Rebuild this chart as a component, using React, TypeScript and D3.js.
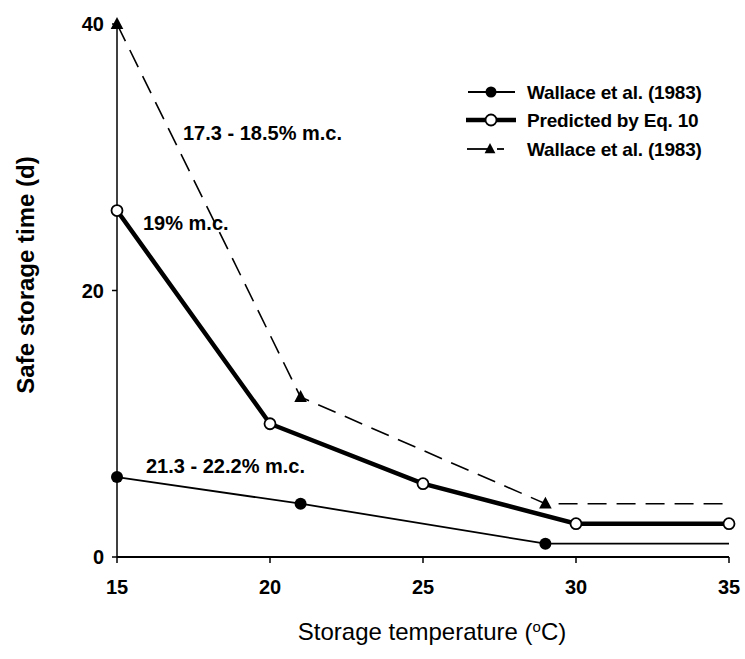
import React from "react";
import * as d3 from "d3";

const wallaceCirX = [15, 21, 29, 35];
const wallaceCirY = [6, 4, 1, 1];
const wallaceCirMarked = [true, true, true, false];

const predX = [15, 20, 25, 30, 35];
const predY = [26, 10, 5.5, 2.5, 2.5];

const wallaceTriX = [15, 21, 29, 35];
const wallaceTriY = [40, 12, 4, 4];
const wallaceTriMarked = [true, true, true, false];

const xTicks = [15, 20, 25, 30, 35];
const yTicks = [0, 20, 40];

const legendLabels = ["Wallace et al. (1983)", "Predicted by Eq. 10", "Wallace et al. (1983)"];

const W = 745, H = 659;
const FONT = "'Liberation Sans', Arial, sans-serif";

export default function App() {
  const x = d3.scaleLinear().domain([15, 35]).range([117, 729]);
  const y = d3.scaleLinear().domain([0, 40]).range([557, 24]);
  const line = d3.line<[number, number]>().x(d => x(d[0])).y(d => y(d[1]));

  const cir = wallaceCirX.map((v, i) => [v, wallaceCirY[i]] as [number, number]);
  const pred = predX.map((v, i) => [v, predY[i]] as [number, number]);
  const tri = wallaceTriX.map((v, i) => [v, wallaceTriY[i]] as [number, number]);
  const triPath = (cx: number, cy: number, s: number) =>
    `M${cx},${cy - s}L${cx + s * 0.9},${cy + s * 0.7}L${cx - s * 0.9},${cy + s * 0.7}Z`;

  return (
    <svg width={W} height={H} style={{ display: "block", position: "absolute", left: 0, top: 0 }}>
      <rect width={W} height={H} fill="#fff" />
      {/* axes */}
      <line x1={x(15)} x2={x(35)} y1={y(0)} y2={y(0)} stroke="#000" strokeWidth={2} />
      <line x1={x(15)} x2={x(15)} y1={y(0)} y2={y(40)} stroke="#000" strokeWidth={1.5} />
      {xTicks.map(t => (
        <g key={"xt" + t}>
          <line x1={x(t)} x2={x(t)} y1={y(0)} y2={y(0) + 6} stroke="#000" strokeWidth={1.5} />
          <text x={x(t)} y={y(0) + 37} textAnchor="middle" fontFamily={FONT} fontSize={20} fontWeight="bold">{t}</text>
        </g>
      ))}
      {yTicks.map(t => (
        <g key={"yt" + t}>
          <line x1={x(15) - 5} x2={x(15)} y1={y(t)} y2={y(t)} stroke="#000" strokeWidth={1.5} />
          <text x={x(15) - 13} y={y(t) + 7} textAnchor="end" fontFamily={FONT} fontSize={20} fontWeight="bold">{t}</text>
        </g>
      ))}
      <text x={432} y={640} textAnchor="middle" fontFamily={FONT} fontSize={24}>
        Storage temperature (<tspan baselineShift="super" fontSize={15}>o</tspan>C)
      </text>
      <text transform={`translate(34,${275}) rotate(-90)`} textAnchor="middle" fontFamily={FONT} fontSize={24} fontWeight="bold">
        Safe storage time (d)
      </text>

      {/* series */}
      <path d={line(tri) || ""} fill="none" stroke="#000" strokeWidth={1.6} strokeDasharray="19,10" />
      <path d={line(pred) || ""} fill="none" stroke="#000" strokeWidth={4.5} />
      <path d={line(cir) || ""} fill="none" stroke="#000" strokeWidth={1.8} />
      {tri.map((d, i) => wallaceTriMarked[i] ? (
        <path key={"t" + i} d={triPath(x(d[0]), y(d[1]), 7)} fill="#000" />
      ) : null)}
      {pred.map((d, i) => (
        <circle key={"p" + i} cx={x(d[0])} cy={y(d[1])} r={5.5} fill="#fff" stroke="#000" strokeWidth={1.8} />
      ))}
      {cir.map((d, i) => wallaceCirMarked[i] ? (
        <circle key={"c" + i} cx={x(d[0])} cy={y(d[1])} r={6} fill="#000" />
      ) : null)}

      {/* annotations */}
      <g fontFamily={FONT} fontSize={20} fontWeight="bold">
        <text x={183} y={140}>17.3 - 18.5% m.c.</text>
        <text x={143} y={230}>19% m.c.</text>
        <text x={146} y={473}>21.3 - 22.2% m.c.</text>
      </g>

      {/* legend */}
      <g fontFamily={FONT} fontSize={19} fontWeight="bold" letterSpacing={-0.2}>
        <line x1={468} x2={515} y1={92} y2={92} stroke="#000" strokeWidth={1.8} />
        <circle cx={491} cy={92} r={5.5} fill="#000" />
        <text x={527} y={99}>{legendLabels[0]}</text>

        <line x1={466} x2={516} y1={120} y2={120} stroke="#000" strokeWidth={4.5} />
        <circle cx={491} cy={120} r={5.5} fill="#fff" stroke="#000" strokeWidth={1.8} />
        <text x={527} y={127}>{legendLabels[1]}</text>

        <line x1={467} x2={490} y1={149} y2={149} stroke="#000" strokeWidth={1.8} />
        <line x1={497} x2={504} y1={149} y2={149} stroke="#000" strokeWidth={1.8} />
        <path d={triPath(490, 149, 6)} fill="#000" />
        <text x={527} y={156}>{legendLabels[2]}</text>
      </g>
    </svg>
  );
}
